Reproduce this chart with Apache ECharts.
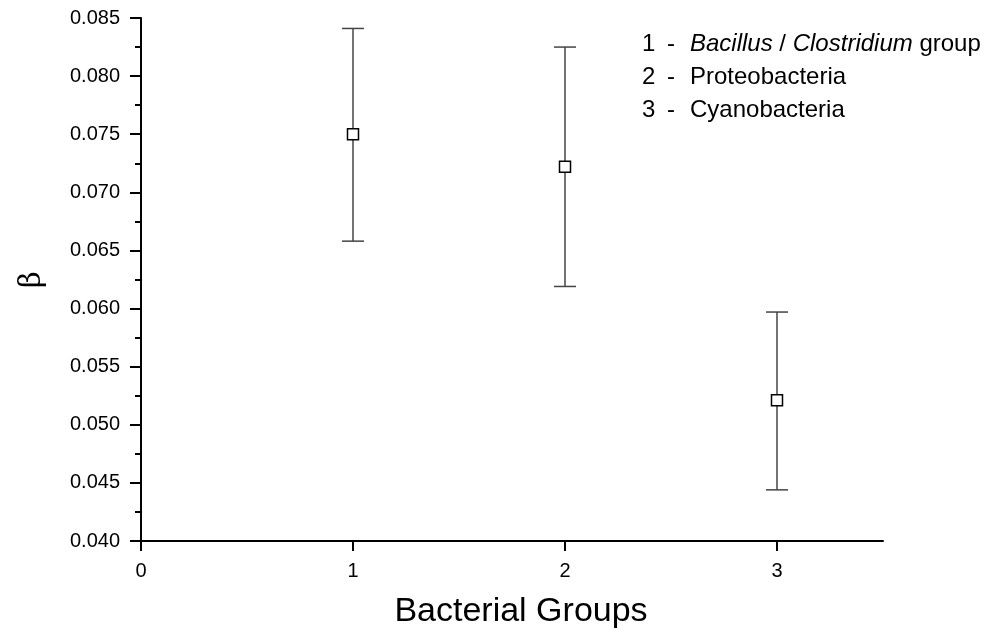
<!DOCTYPE html>
<html>
<head>
<meta charset="utf-8">
<script src="https://cdn.jsdelivr.net/npm/echarts@6/dist/echarts.min.js"></script>
<style>
    html, body { margin: 0; padding: 0; background: #fff; }
    #chart { width: 989px; height: 639px; }
</style>
</head>
<body>
<div id="chart"></div>
<script>
// data
var groups = [1, 2, 3];
var betaMean = [0.0750, 0.0722, 0.0521];
var betaLow = [0.0658, 0.0619, 0.0444];
var betaHigh = [0.0841, 0.0825, 0.0597];
var xTicks = [0, 1, 2, 3];
var legendNums = ['1', '2', '3'];
var legendNames = ['{i|Bacillus} / {i|Clostridium} group', 'Proteobacteria', 'Cyanobacteria'];

var FONT = '"Liberation Sans", Arial, sans-serif';

var meanData = [];
var barData = [];
for (var i = 0; i < groups.length; i++) {
    meanData.push([groups[i], betaMean[i]]);
    barData.push([groups[i], betaLow[i], betaHigh[i]]);
}

// legend text block (top right)
var legendGraphics = [];
for (var k = 0; k < legendNums.length; k++) {
    var y = 45 + k * 33;
    legendGraphics.push({
        type: 'text', left: 642, top: y - 13,
        style: { text: legendNums[k], font: '24px ' + FONT, fill: '#000' }
    });
    legendGraphics.push({
        type: 'text', left: 667, top: y - 13,
        style: { text: '-', font: '24px ' + FONT, fill: '#000' }
    });
    legendGraphics.push({
        type: 'text', left: 690, top: y - 13,
        style: {
            text: legendNames[k], font: '24px ' + FONT, fill: '#000',
            rich: { i: { fontStyle: 'italic', fontSize: 24, fontFamily: FONT, fill: '#000' } }
        }
    });
}

var chart = echarts.init(document.getElementById('chart'));
var option = {
    animation: false,
    backgroundColor: '#fff',
    textStyle: { fontFamily: FONT },
    grid: { left: 141, right: 106, top: 18, bottom: 98, outerBoundsMode: 'none' },
    xAxis: {
        type: 'value',
        min: 0,
        max: 3.5,
        interval: 1,
        name: 'Bacterial Groups',
        nameLocation: 'middle',
        nameGap: 54,
        nameTextStyle: { fontSize: 34, color: '#000', fontFamily: FONT, padding: [0, 0, 0, 18] },
        axisLine: { onZero: false, lineStyle: { color: '#000', width: 2 } },
        axisTick: { length: 10, lineStyle: { color: '#000', width: 2 }, customValues: xTicks },
        axisLabel: { fontSize: 20, color: '#000', margin: 20, customValues: xTicks },
        splitLine: { show: false }
    },
    yAxis: {
        type: 'value',
        min: 0.040,
        max: 0.085,
        interval: 0.005,
        name: 'β',
        nameLocation: 'middle',
        nameRotate: 90,
        nameGap: 94,
        nameTextStyle: { fontSize: 29, color: '#000', fontFamily: '"DejaVu Serif", serif' },
        axisLine: { onZero: false, lineStyle: { color: '#000', width: 2 } },
        axisTick: { length: 11, lineStyle: { color: '#000', width: 2 } },
        minorTick: { show: true, splitNumber: 2, length: 6, lineStyle: { color: '#000', width: 2 } },
        axisLabel: {
            fontSize: 20, color: '#000', margin: 21,
            formatter: function (v) { return v.toFixed(3); }
        },
        splitLine: { show: false }
    },
    graphic: legendGraphics,
    series: [
        {
            type: 'custom',
            name: 'error',
            data: barData,
            encode: { x: 0, y: [1, 2] },
            z: 2,
            renderItem: function (params, api) {
                var x = api.value(0);
                var lo = api.coord([x, api.value(1)]);
                var hi = api.coord([x, api.value(2)]);
                var half = 11;
                var st = { stroke: '#444', lineWidth: 1.5 };
                return {
                    type: 'group',
                    children: [
                        { type: 'line', shape: { x1: hi[0], y1: hi[1], x2: lo[0], y2: lo[1] }, style: st },
                        { type: 'line', shape: { x1: hi[0] - half, y1: hi[1], x2: hi[0] + half, y2: hi[1] }, style: st },
                        { type: 'line', shape: { x1: lo[0] - half, y1: lo[1], x2: lo[0] + half, y2: lo[1] }, style: st }
                    ]
                };
            }
        },
        {
            type: 'scatter',
            name: 'beta',
            data: meanData,
            symbol: 'rect',
            symbolSize: 11,
            z: 5,
            itemStyle: { color: '#fff', borderColor: '#000', borderWidth: 1.5, opacity: 1 }
        }
    ]
};
chart.setOption(option);
</script>
</body>
</html>
